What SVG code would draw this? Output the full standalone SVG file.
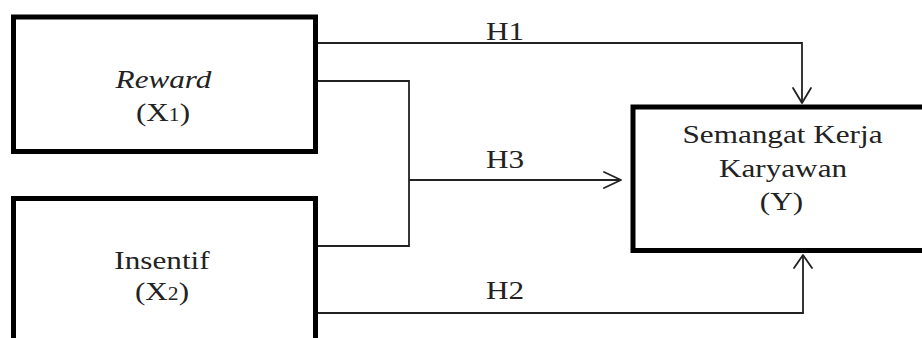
<svg xmlns="http://www.w3.org/2000/svg" width="922" height="338" viewBox="0 0 922 338">
<style>
.box{fill:#fff;stroke:#000;stroke-width:5}
.t{font-family:"Liberation Serif","Times New Roman",serif;font-size:26px;fill:#222;text-anchor:middle}
.c{fill:none;stroke:#222;stroke-width:1.8}
.ah{fill:none;stroke:#222;stroke-width:1.8;stroke-linecap:round;stroke-linejoin:round}
</style>
<rect width="922" height="338" fill="#fff"/>
<g id="reward">
<rect class="box" x="13.5" y="17" width="302" height="134.5"/>
<text class="t" transform="translate(163.5,88) scale(1.2,1)" font-style="italic">Reward</text>
<text class="t" transform="translate(163,121) scale(1.2,1)">(X<tspan font-size="18">1</tspan>)</text>
</g>
<g id="insentif">
<rect class="box" x="13.5" y="198.5" width="302" height="160"/>
<text class="t" transform="translate(162,269) scale(1.2,1)">Insentif</text>
<text class="t" transform="translate(162,300) scale(1.2,1)">(X<tspan font-size="18">2</tspan>)</text>
</g>
<g id="semangat">
<rect class="box" x="633" y="107" width="320" height="143.5"/>
<text class="t" transform="translate(782.5,143) scale(1.2,1)">Semangat Kerja</text>
<text class="t" transform="translate(783,177) scale(1.2,1)">Karyawan</text>
<text class="t" transform="translate(781.5,210) scale(1.2,1)">(Y)</text>
</g>
<g id="connectors">
<polyline class="c" points="318,43 802,43 802,103"/>
<polyline class="ah" points="793,88 802,103 811,88"/>
<polyline class="c" points="318,81 409,81 409,246 318,246"/>
<line class="c" x1="409" y1="180" x2="621" y2="180"/>
<polyline class="ah" points="604,172 621,180 604,188"/>
<polyline class="c" points="318,313 803,313 803,255"/>
<polyline class="ah" points="794,268 803,255 812,268"/>
</g>
<g id="labels">
<text class="t" transform="translate(505,40) scale(1.2,1)">H1</text>
<text class="t" transform="translate(505,168) scale(1.2,1)">H3</text>
<text class="t" transform="translate(505,299) scale(1.2,1)">H2</text>
</g>
</svg>
